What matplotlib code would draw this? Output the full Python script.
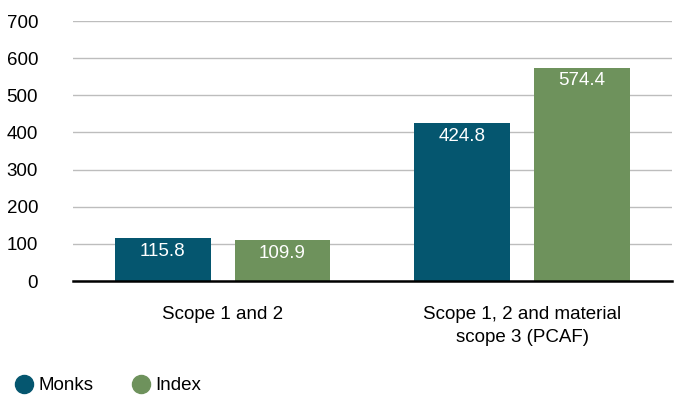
import matplotlib
matplotlib.use("Agg")
import matplotlib.pyplot as plt
import numpy as np
from matplotlib.lines import Line2D

plt.rcParams['font.family'] = ['Liberation Sans', 'DejaVu Sans']

categories = ["Scope 1 and 2", "Scope 1, 2 and material\nscope 3 (PCAF)"]
series = ["Monks", "Index"]
monks = [115.8, 424.8]
index = [109.9, 574.4]
colors = ["#05566f", "#6e925c"]
yticks = [0, 100, 200, 300, 400, 500, 600, 700]

fig = plt.figure(figsize=(6.8, 3.97), dpi=100)
ax = fig.add_axes([0.107, 0.292, 0.881, 0.655])

x = np.arange(len(categories))
w = 0.32
for vals, off, col in [(monks, -0.2, colors[0]), (index, 0.2, colors[1])]:
    bars = ax.bar(x + off, vals, width=w, color=col, zorder=3)
    for b, v in zip(bars, vals):
        ax.text(b.get_x() + b.get_width() / 2, v - 35, f"{v:.1f}",
                ha='center', va='center', color='white', fontsize=13.5, zorder=4)

ax.set_xlim(-0.5, 1.5)
ax.set_ylim(0, 700)
ax.set_yticks(yticks)
ax.set_yticklabels([str(t) for t in yticks], fontsize=13.5)
ax.set_xticks(x)
ax.set_xticklabels(categories, fontsize=13.5, linespacing=1.45)
ax.tick_params(axis='y', length=0, pad=25)
ax.tick_params(axis='x', length=0, pad=18)
ax.grid(axis='y', color='#bdbdbd', linewidth=1, zorder=0)
for s in ['top', 'right', 'left']:
    ax.spines[s].set_visible(False)
ax.spines['bottom'].set_color('black')
ax.spines['bottom'].set_linewidth(1.8)
ax.spines['bottom'].set_zorder(5)

handles = [Line2D([], [], marker='o', linestyle='none', markersize=13,
                  markerfacecolor=c, markeredgecolor=c) for c in colors]
fig.legend(handles, series, loc='lower left', bbox_to_anchor=(-0.01, -0.036),
           ncol=2, frameon=False, fontsize=13.5, handletextpad=0.0,
           columnspacing=1.8, handlelength=1.5)

fig.savefig("out.png", dpi=100, facecolor='white')
